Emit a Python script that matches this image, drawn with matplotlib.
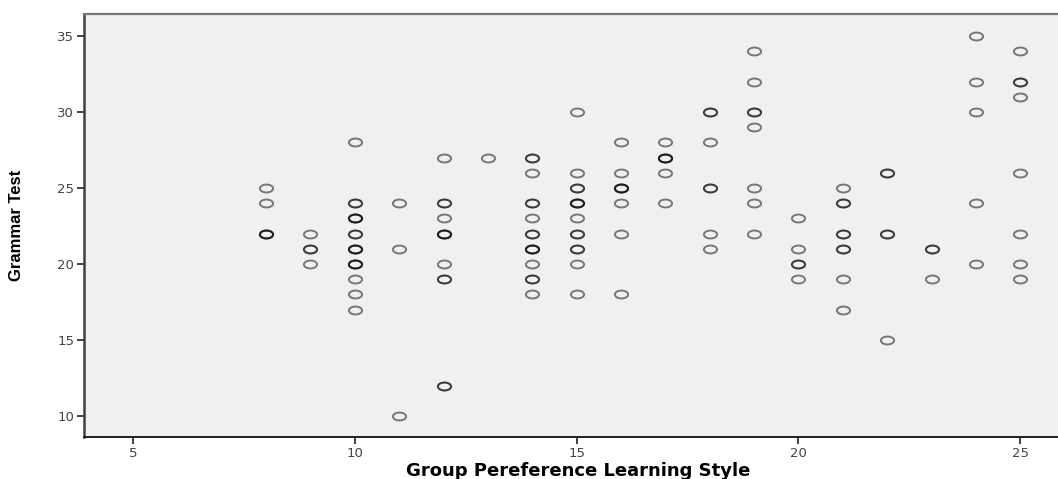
import numpy as np
import matplotlib.pyplot as plt
from matplotlib.path import Path

# scatter data (count = how many cases overlap at that point)
style = [8, 8, 8,
         9, 9, 9,
         10, 10, 10, 10, 10, 10, 10, 10, 10,
         11, 11, 11,
         12, 12, 12, 12, 12, 12, 12,
         13,
         14, 14, 14, 14, 14, 14, 14, 14, 14,
         15, 15, 15, 15, 15, 15, 15, 15, 15,
         16, 16, 16, 16, 16, 16,
         17, 17, 17, 17,
         18, 18, 18, 18, 18,
         19, 19, 19, 19, 19, 19, 19,
         20, 20, 20, 20,
         21, 21, 21, 21, 21, 21,
         22, 22, 22,
         23, 23,
         24, 24, 24, 24, 24,
         25, 25, 25, 25, 25, 25, 25]
grammar = [25, 24, 22,
           22, 21, 20,
           28, 24, 23, 22, 21, 20, 19, 18, 17,
           24, 21, 10,
           27, 24, 23, 22, 20, 19, 12,
           27,
           27, 26, 24, 23, 22, 21, 20, 19, 18,
           30, 26, 25, 24, 23, 22, 21, 20, 18,
           28, 26, 25, 24, 22, 18,
           28, 27, 26, 24,
           30, 28, 25, 22, 21,
           34, 32, 30, 29, 25, 24, 22,
           23, 21, 20, 19,
           25, 24, 22, 21, 19, 17,
           26, 22, 15,
           21, 19,
           35, 32, 30, 24, 20,
           34, 32, 31, 26, 22, 20, 19]
count = [1, 1, 3,
         1, 2, 1,
         1, 2, 3, 2, 3, 3, 1, 1, 1,
         1, 1, 1,
         1, 2, 1, 3, 1, 2, 2,
         1,
         2, 1, 2, 1, 2, 3, 1, 2, 1,
         1, 1, 2, 3, 1, 2, 2, 1, 1,
         1, 1, 3, 1, 1, 1,
         1, 3, 1, 1,
         2, 1, 2, 1, 1,
         1, 1, 2, 1, 1, 1, 1,
         1, 1, 2, 1,
         1, 2, 2, 2, 1, 1,
         2, 2, 1,
         2, 1,
         1, 1, 1, 1, 1,
         1, 2, 1, 1, 1, 1, 1]

xs = np.repeat(style, count)
ys = np.repeat(grammar, count)

# flattened ring marker (the original image is stretched sideways)
circ = Path.unit_circle()
ellipse = Path(circ.vertices * np.array([1.0, 0.6]), circ.codes)

fig = plt.figure(figsize=(10.58, 4.79), dpi=100)
ax = fig.add_axes([0.0794, 0.0877, 0.934, 0.8831])
ax.set_facecolor('#f0f0f0')

ax.plot(xs, ys, linestyle='none', marker=ellipse, markersize=9.5,
        markerfacecolor='none', markeredgecolor=(0, 0, 0, 0.5), markeredgewidth=1.4)

ax.set_xlim(3.895, 26.17)
ax.set_ylim(8.62, 36.45)
ax.set_xticks([5, 10, 15, 20, 25])
ax.set_yticks([10, 15, 20, 25, 30, 35])

ax.spines['left'].set_color('#404040')
ax.spines['left'].set_linewidth(1.8)
ax.spines['bottom'].set_color('#202020')
ax.spines['bottom'].set_linewidth(1.4)
ax.spines['top'].set_color('#777777')
ax.spines['top'].set_linewidth(1.6)
ax.spines['right'].set_visible(False)

ax.tick_params(axis='both', direction='out', length=5, width=1.3, color='#333333',
               labelsize=9.5, labelcolor='#444444', pad=2)

ax.set_xlabel('Group Pereference Learning Style', fontsize=13, fontweight='bold',
              family='DejaVu Sans', labelpad=2)
ax.set_ylabel('Grammar Test', fontsize=12, fontweight='bold',
              family='Liberation Sans', labelpad=24)

fig.savefig('out.png', dpi=100)
